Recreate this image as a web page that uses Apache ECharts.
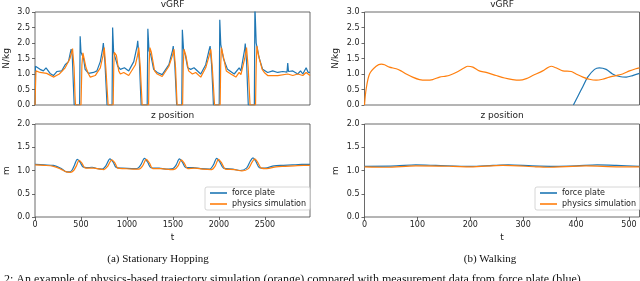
<!DOCTYPE html>
<html><head><meta charset="utf-8">
<script src="https://cdn.jsdelivr.net/npm/echarts@6/dist/echarts.min.js"></script>
<style>html,body{margin:0;padding:0;background:#fff}#c{width:640px;height:281px}</style>
</head><body><div id="c"></div>
<script>
// ---- data (t, value) ----
const hopGrfBlue = [[0,0],[5,1.25],[18,1.2],[55,1.15],[91,1.1],[120,1.2],[140,1.12],[164,1.02],[200,0.95],[237,1.08],[291,1.1],[328,1.3],[364,1.4],[385,1.7],[393,1.8],[405,1.6],[418,0.6],[426,0],[485,0],[491,2.22],[500,1.7],[515,1.72],[528,1.5],[545,1.15],[582,1.02],[637,1.05],[673,1.1],[710,1.4],[735,1.8],[743,2.0],[760,1.4],[775,0.5],[783,0],[838,0],[844,2.5],[855,1.7],[875,1.65],[900,1.25],[928,1.15],[972,1.2],[1019,1.1],[1074,1.4],[1110,1.9],[1117,2.07],[1135,1.4],[1147,0.5],[1154,0],[1220,0],[1227,2.46],[1240,1.75],[1260,1.6],[1290,1.15],[1329,1.05],[1347,1.1],[1383,0.98],[1456,1.3],[1495,1.75],[1503,1.9],[1520,1.3],[1533,0.5],[1540,0],[1596,0],[1602,2.43],[1615,1.8],[1635,1.6],[1660,1.2],[1693,1.15],[1729,1.2],[1802,1.0],[1856,1.3],[1895,1.8],[1904,1.9],[1920,1.3],[1933,0.5],[1940,0],[2003,0],[2009,2.75],[2020,1.95],[2049,1.5],[2093,1.15],[2166,1.0],[2220,1.2],[2239,1.1],[2280,1.8],[2286,1.98],[2300,1.4],[2312,0.5],[2319,0],[2385,0],[2391,3.2],[2405,2.0],[2421,1.95],[2439,1.5],[2475,1.15],[2530,1.05],[2584,1.1],[2639,1.05],[2694,1.08],[2740,1.06],[2748,1.35],[2756,1.08],[2766,1.05],[2803,1.1],[2857,1.0],[2887,1.1],[2912,1.0],[2948,1.2],[2970,1.05],[2990,1.05]];
const hopGrfOrange = [[0,0],[10,1.1],[55,1.05],[127,1.02],[200,0.9],[264,1.0],[328,1.2],[380,1.5],[408,1.82],[425,1.2],[435,0.3],[440,0],[500,0],[510,1.3],[521,1.68],[535,1.65],[555,1.2],[582,1.0],[601,0.9],[655,0.95],[710,1.2],[740,1.6],[753,1.85],[770,1.2],[795,0],[850,0],[856,1.2],[862,1.7],[885,1.6],[910,1.1],[928,1.0],[965,1.05],[1019,0.95],[1092,1.3],[1115,1.6],[1128,1.85],[1145,1.2],[1165,0],[1235,0],[1241,1.3],[1249,1.85],[1265,1.7],[1300,1.1],[1329,1.0],[1383,0.92],[1456,1.25],[1495,1.6],[1511,1.8],[1528,1.2],[1545,0],[1605,0],[1612,1.3],[1620,1.8],[1640,1.6],[1670,1.1],[1711,1.0],[1747,1.05],[1802,0.9],[1856,1.2],[1895,1.6],[1911,1.8],[1928,1.2],[1952,0],[2013,0],[2019,1.3],[2027,1.85],[2045,1.6],[2080,1.1],[2129,1.0],[2184,0.9],[2220,1.05],[2239,0.98],[2280,1.5],[2300,1.85],[2318,1.2],[2338,0],[2398,0],[2405,1.3],[2413,1.9],[2430,1.6],[2470,1.15],[2493,1.05],[2530,0.95],[2639,0.95],[2748,1.0],[2803,0.95],[2857,1.0],[2912,0.95],[2948,1.05],[2990,0.95]];
const hopZBlue = [[0,1.13],[100,1.12],[200,1.11],[280,1.05],[330,0.98],[370,0.97],[400,1.0],[430,1.12],[460,1.24],[490,1.18],[520,1.08],[560,1.06],[620,1.07],[680,1.04],[730,1.03],[770,1.1],[815,1.25],[850,1.18],[880,1.07],[950,1.05],[1050,1.04],[1110,1.04],[1150,1.12],[1190,1.26],[1225,1.18],[1260,1.06],[1350,1.05],[1450,1.03],[1500,1.04],[1535,1.12],[1570,1.25],[1605,1.17],[1640,1.06],[1720,1.06],[1800,1.04],[1900,1.03],[1940,1.12],[1975,1.26],[2010,1.18],[2050,1.05],[2150,1.03],[2230,1.0],[2300,1.05],[2340,1.2],[2370,1.27],[2400,1.2],[2440,1.06],[2500,1.05],[2600,1.1],[2700,1.11],[2800,1.12],[2900,1.13],[2990,1.13]];
const hopZOrange = [[0,1.12],[100,1.11],[200,1.09],[280,1.03],[340,0.97],[385,0.96],[420,1.0],[450,1.1],[480,1.22],[510,1.16],[540,1.06],[580,1.05],[640,1.05],[700,1.03],[750,1.02],[790,1.09],[835,1.23],[870,1.16],[900,1.05],[970,1.04],[1070,1.03],[1130,1.03],[1170,1.1],[1210,1.24],[1245,1.16],[1280,1.04],[1370,1.04],[1470,1.02],[1520,1.03],[1555,1.1],[1590,1.23],[1625,1.15],[1660,1.04],[1740,1.05],[1820,1.03],[1920,1.02],[1960,1.1],[1995,1.24],[2030,1.16],[2070,1.03],[2170,1.02],[2250,0.99],[2320,1.04],[2360,1.18],[2390,1.25],[2420,1.18],[2460,1.05],[2520,1.04],[2620,1.08],[2720,1.09],[2820,1.1],[2920,1.11],[2990,1.11]];
const walkGrfBlue = [[395,0],[404,0.3],[413,0.6],[422,0.9],[435,1.15],[444,1.2],[457,1.15],[469,1.0],[482,0.92],[495,0.9],[507,0.95],[520,1.02]];
const walkGrfOrange = [[0,0],[3,0.5],[9.5,1.0],[22,1.25],[31.5,1.32],[38,1.3],[47,1.22],[60,1.17],[69,1.1],[79,1.0],[91,0.9],[104,0.82],[117,0.8],[129,0.82],[142,0.9],[154,0.93],[161,0.96],[173,1.05],[189,1.2],[195,1.25],[205,1.22],[217,1.1],[230,1.05],[249,0.95],[265,0.87],[280,0.82],[293,0.8],[306,0.85],[318,0.95],[337,1.1],[353,1.25],[362,1.2],[375,1.1],[391,1.08],[400,1.0],[413,0.9],[425,0.83],[438,0.8],[450,0.83],[463,0.9],[476,0.95],[488,1.0],[501,1.1],[513,1.17],[520,1.2]];
const walkZBlue = [[0,1.09],[60,1.1],[97,1.12],[135,1.11],[200,1.09],[243,1.11],[272,1.12],[317,1.1],[360,1.09],[400,1.1],[440,1.12],[476,1.11],[520,1.09]];
const walkZOrange = [[0,1.08],[41,1.07],[97,1.1],[167,1.09],[200,1.08],[261,1.11],[324,1.08],[343,1.07],[419,1.1],[482,1.08],[520,1.08]];
const seriesNames = ['force plate','physics simulation'];
const titles = ['vGRF','z position'];
const captions = ['(a) Stationary Hopping','(b) Walking'];
const footText = 'Fig. 2: An example of physics-based trajectory simulation (orange) compared with measurement data from force plate (blue)';

const BLUE = '#1f77b4', ORANGE = '#ff7f0e';
const FONT = 'DejaVu Sans';
const gridsPos = [
  {left:35, top:12, width:275, height:93},
  {left:35, top:124, width:275, height:93},
  {left:364.5, top:12, width:275, height:93},
  {left:364.5, top:124, width:275, height:93}
];
const xMax = [2990, 2990, 520, 520];
const xInt = [500, 500, 100, 100];
const yMax = [3, 2, 3, 2];
const yName = ['N/kg','m','N/kg','m'];
const showX = [false, true, false, true];

const grid = gridsPos.map(g => Object.assign({show:true, borderColor:'#444', borderWidth:0.8, backgroundColor:'transparent'}, g));
const xAxis = gridsPos.map((g,i) => ({
  type:'value', gridIndex:i, min:0, max:xMax[i], interval:xInt[i],
  axisLine:{show:false}, splitLine:{show:false},
  axisTick:{show:showX[i], length:3, lineStyle:{color:'#444', width:0.8}},
  axisLabel:{show:showX[i], fontFamily:FONT, fontSize:8, color:'#222', margin:4, showMaxLabel:false, formatter:v=>String(v)},
  name: showX[i] ? 't' : '', nameLocation:'middle', nameGap:16,
  nameTextStyle:{fontFamily:FONT, fontSize:9, color:'#222'}
}));
const yAxis = gridsPos.map((g,i) => ({
  type:'value', gridIndex:i, min:0, max:yMax[i], interval:0.5,
  axisLine:{show:false}, splitLine:{show:false},
  axisTick:{show:true, length:3, lineStyle:{color:'#444', width:0.8}},
  axisLabel:{fontFamily:FONT, fontSize:8, color:'#222', margin:5, formatter:v=>v.toFixed(1)},
  name: yName[i], nameLocation:'middle', nameGap:24,
  nameTextStyle:{fontFamily:FONT, fontSize:9, color:'#222'}
}));
const datas = [[hopGrfBlue, hopGrfOrange],[hopZBlue, hopZOrange],[walkGrfBlue, walkGrfOrange],[walkZBlue, walkZOrange]];
const series = [];
datas.forEach((pair,i) => {
  pair.forEach((d,k) => {
    series.push({
      type:'line', name:seriesNames[k], xAxisIndex:i, yAxisIndex:i, data:d,
      symbol:'none', smooth: (i===0 ? false : 0.3), clip:true, z: k===0 ? 2 : 3,
      lineStyle:{color: k===0?BLUE:ORANGE, width:1.2},
      itemStyle:{color: k===0?BLUE:ORANGE},
      emphasis:{disabled:true}, silent:true, animation:false
    });
  });
});
const legendBase = {
  orient:'vertical', top:187, data:seriesNames, icon:'rect', itemWidth:17, itemHeight:1.6, itemGap:3,
  padding:[2,4,2,5], borderColor:'#ccc', borderWidth:0.8, borderRadius:2,
  backgroundColor:'rgba(255,255,255,0.8)',
  textStyle:{fontFamily:FONT, fontSize:8, color:'#222'}, selectedMode:false
};
const legend = [
  Object.assign({left:205}, legendBase),
  Object.assign({left:535}, legendBase)
];
const tstyle = {fontFamily:FONT, fontSize:9, fill:'#222'};
const graphic = [
  {type:'text', x:172.5, y:5, style:Object.assign({text:titles[0], textAlign:'center', textVerticalAlign:'middle'}, tstyle)},
  {type:'text', x:172.5, y:116, style:Object.assign({text:titles[1], textAlign:'center', textVerticalAlign:'middle'}, tstyle)},
  {type:'text', x:502, y:5, style:Object.assign({text:titles[0], textAlign:'center', textVerticalAlign:'middle'}, tstyle)},
  {type:'text', x:502, y:116, style:Object.assign({text:titles[1], textAlign:'center', textVerticalAlign:'middle'}, tstyle)},
  {type:'text', x:158, y:259, style:{text:captions[0], textAlign:'center', textVerticalAlign:'middle', fontFamily:'Liberation Serif', fontSize:11, fill:'#111'}},
  {type:'text', x:490, y:259, style:{text:captions[1], textAlign:'center', textVerticalAlign:'middle', fontFamily:'Liberation Serif', fontSize:11, fill:'#111'}},
  {type:'text', x:-18, y:274, style:{text:footText, textAlign:'left', textVerticalAlign:'top', fontFamily:'Liberation Serif', fontSize:12, fill:'#111'}}
];
const chart = echarts.init(document.getElementById('c'), null, {renderer:'canvas'});
chart.setOption({animation:false, grid, xAxis, yAxis, series, legend, graphic});
</script></body></html>
